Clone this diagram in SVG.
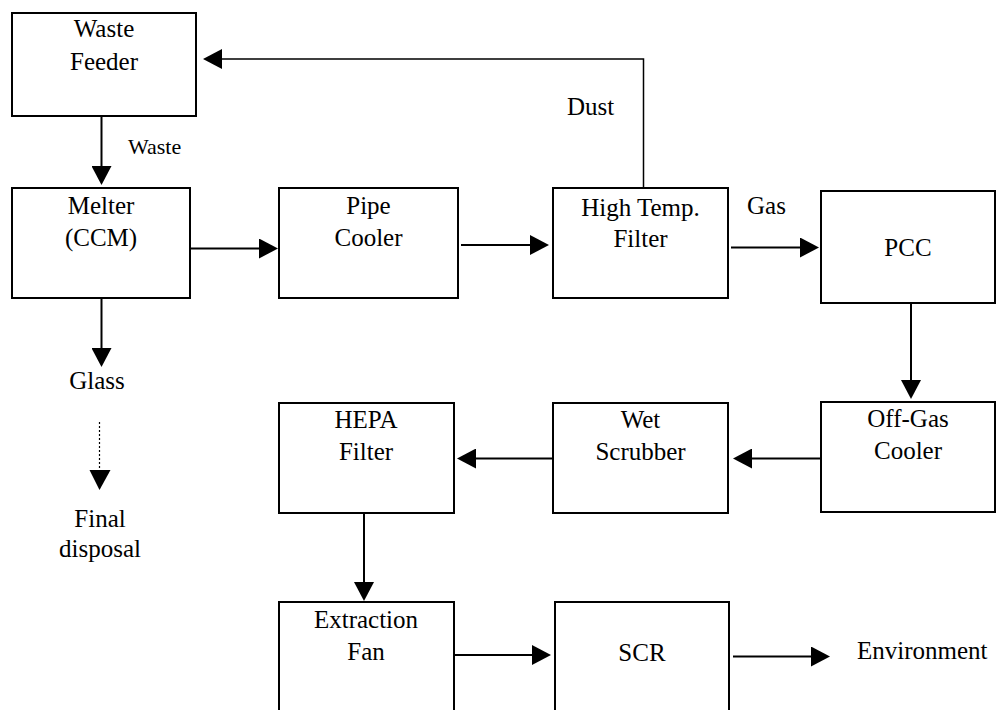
<svg xmlns="http://www.w3.org/2000/svg" width="998" height="710" viewBox="0 0 998 710">
<style>
.box{fill:#fff;stroke:#000;stroke-width:2}
.t{font-family:"Liberation Serif","Times New Roman",serif;font-size:25px;fill:#000;text-anchor:middle}
.l{font-family:"Liberation Serif","Times New Roman",serif;font-size:25px;fill:#000}
.c{fill:none;stroke:#000;stroke-width:2}
.thin{fill:none;stroke:#000;stroke-width:1.5}
.dot{fill:none;stroke:#000;stroke-width:1.2;stroke-dasharray:2 2}
</style>
<defs>
<marker id="ah" markerUnits="userSpaceOnUse" markerWidth="19" markerHeight="20" refX="14" refY="10" orient="auto" viewBox="0 0 19 20">
<path d="M0,0 L19,10 L0,20 z" fill="#000"/>
</marker>
</defs>
<rect width="998" height="710" fill="#fff"/>
<g id="connectors">
<line class="c" x1="101.5" y1="116" x2="101.5" y2="180" marker-end="url(#ah)"/>
<line class="c" x1="190" y1="248.5" x2="273" y2="248.5" marker-end="url(#ah)"/>
<line class="c" x1="461" y1="245" x2="544" y2="245" marker-end="url(#ah)"/>
<line class="c" x1="731" y1="247.5" x2="814" y2="247.5" marker-end="url(#ah)"/>
<line class="c" x1="911" y1="303" x2="911" y2="394" marker-end="url(#ah)"/>
<line class="c" x1="821" y1="458.5" x2="738" y2="458.5" marker-end="url(#ah)"/>
<line class="c" x1="553" y1="458.5" x2="462" y2="458.5" marker-end="url(#ah)"/>
<line class="c" x1="364" y1="513" x2="364" y2="596" marker-end="url(#ah)"/>
<line class="c" x1="454" y1="655" x2="546" y2="655" marker-end="url(#ah)"/>
<line class="c" x1="733" y1="656.5" x2="825" y2="656.5" marker-end="url(#ah)"/>
<line class="c" x1="101.5" y1="298" x2="101.5" y2="362" marker-end="url(#ah)"/>
<polyline class="thin" points="643.5,188 643.5,59 208,59" marker-end="url(#ah)"/>
<line class="dot" x1="99.5" y1="422" x2="99.5" y2="485"/>
<path d="M89.5,470 L110.5,470 L99.5,490 z" fill="#000"/>
</g>
<g id="waste-feeder"><rect class="box" x="12" y="13" width="184" height="103"/><text class="t" x="104" y="37">Waste</text><text class="t" x="104" y="70">Feeder</text></g>
<g id="melter"><rect class="box" x="12" y="188" width="178" height="110"/><text class="t" x="101" y="214">Melter</text><text class="t" x="101" y="246">(CCM)</text></g>
<g id="pipe-cooler"><rect class="box" x="279" y="188" width="179" height="110"/><text class="t" x="368.5" y="214">Pipe</text><text class="t" x="368.5" y="246">Cooler</text></g>
<g id="high-temp-filter"><rect class="box" x="553" y="188" width="175" height="110"/><text class="t" x="640.5" y="216">High Temp.</text><text class="t" x="640.5" y="247">Filter</text></g>
<g id="pcc"><rect class="box" x="821" y="191" width="174" height="112"/><text class="t" x="908" y="256">PCC</text></g>
<g id="off-gas-cooler"><rect class="box" x="821" y="402" width="174" height="110"/><text class="t" x="908" y="427">Off-Gas</text><text class="t" x="908" y="459">Cooler</text></g>
<g id="wet-scrubber"><rect class="box" x="553" y="403" width="175" height="110"/><text class="t" x="640.5" y="428">Wet</text><text class="t" x="640.5" y="460">Scrubber</text></g>
<g id="hepa-filter"><rect class="box" x="279" y="403" width="175" height="110"/><text class="t" x="366" y="428">HEPA</text><text class="t" x="366" y="460">Filter</text></g>
<g id="extraction-fan"><rect class="box" x="279" y="602" width="175" height="120"/><text class="t" x="366" y="628">Extraction</text><text class="t" x="366" y="660">Fan</text></g>
<g id="scr"><rect class="box" x="555" y="602" width="174" height="120"/><text class="t" x="642" y="661">SCR</text></g>
<g id="labels">
<text class="l" x="128" y="154" style="font-size:22px">Waste</text>
<text class="l" x="567" y="115">Dust</text>
<text class="l" x="747" y="214">Gas</text>
<text class="t" x="97" y="389">Glass</text>
<text class="t" x="100" y="527">Final</text>
<text class="t" x="100" y="557">disposal</text>
<text class="l" x="857" y="659">Environment</text>
</g>
</svg>
